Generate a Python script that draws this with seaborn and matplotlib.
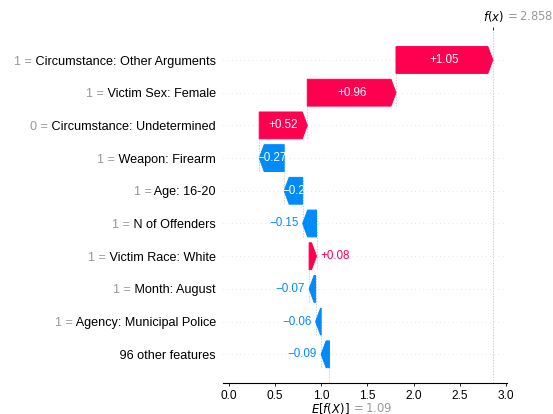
import re
import numpy as np
import matplotlib
matplotlib.use("Agg")
import matplotlib.pyplot as plt
import matplotlib.transforms as mtransforms
import seaborn as sns

# shap waterfall, top row first
feature_names = ["Circumstance: Other Arguments", "Victim Sex: Female",
                 "Circumstance: Undetermined", "Weapon: Firearm", "Age: 16-20",
                 "N of Offenders", "Victim Race: White", "Month: August",
                 "Agency: Municipal Police", "96 other features"]
feature_values = [1, 1, 0, 1, 1, 1, 1, 1, 1, None]
shap_values = [1.048, 0.96, 0.52, -0.27, -0.20, -0.15, 0.08, -0.07, -0.06, -0.09]
base_value = 1.09
x_ticks = [0.0, 0.5, 1.0, 1.5, 2.0, 2.5, 3.0]

RED = "#ff0051"
BLUE = "#008bfb"


def format_value(v, fmt):
    s = fmt % v
    s = re.sub(r"\.?0+$", "", s)
    if s[0] == "-":
        s = "\u2212" + s[1:]
    return s


sns.set_style("white")
plt.rcParams["font.family"] = ["Liberation Sans", "DejaVu Sans"]
plt.rcParams["mathtext.fontset"] = "dejavusans"

fig = plt.figure(figsize=(5.53, 4.1401), dpi=100)
ax = fig.add_axes([0.4024, 0.0742, 0.5149, 0.8533])

n = len(shap_values)
rows = np.arange(n)[::-1]
fx = base_value + sum(shap_values)
xmin, xmax = -0.067, 3.014
ax.set_xlim(xmin, xmax)
ax.set_ylim(-0.887, n - 1 + 0.917)

px_per_unit = 0.5149 * fig.get_figwidth() * fig.dpi / (xmax - xmin)
hl = 5.0 / px_per_unit
txt_off = 4.2 / px_per_unit
bar_w = 0.82

# dotted row lines
for y in rows:
    ax.axhline(y, color="#cccccc", lw=0.5, dashes=(1, 5), zorder=-1)

loc = fx
for i, (y, v) in enumerate(zip(rows, shap_values)):
    loc -= v
    c = RED if v > 0 else BLUE
    sign = 1 if v > 0 else -1
    ax.arrow(loc, y, sign * max(abs(v) - hl, 1e-6), 0, head_length=min(abs(v), hl),
             width=bar_w, head_width=bar_w, color=c, lw=0.7,
             length_includes_head=False)
    if i < n - 1:
        ax.plot([loc, loc], [y - 1 - 0.4, y + 0.4], color="#bbbbbb",
                ls=(0, (2, 2)), lw=0.5, zorder=-1)
    lab = format_value(v, "%+0.02f")
    if abs(v) >= 0.2:
        ax.text(loc + v / 2, y, lab, ha="center", va="center", color="white", fontsize=8.4)
    else:
        ax.text(loc + v + sign * txt_off, y, lab, ha="left" if v > 0 else "right",
                va="center", color=c, fontsize=8.4)

ax.axvline(base_value, 0, 1 / n, color="#bbbbbb", ls=(0, (2, 2)), lw=0.5, zorder=-1)
ax.axvline(fx, color="#bbbbbb", ls=(0, (2, 2)), lw=0.5, zorder=-1)

# y labels: black feature name, grey "value =" in front of it
ax.set_yticks(rows)
ax.set_yticklabels([" " + name for name in feature_names])
ax.tick_params(axis="y", left=False, length=0, pad=4.7, labelsize=9.1, colors="black")

ax.set_xticks(x_ticks)
ax.tick_params(axis="x", bottom=True, length=2.4, width=0.6, pad=2.4,
               labelsize=8.6, colors="black")
sns.despine(ax=ax, left=True)
ax.spines["bottom"].set_color("black")
ax.spines["bottom"].set_linewidth(0.8)

fig.canvas.draw()
renderer = fig.canvas.get_renderer()
for t, fv in zip(ax.get_yticklabels(), feature_values):
    if fv is None:
        continue
    bb = t.get_window_extent(renderer)
    shift = mtransforms.ScaledTranslation(-bb.width / fig.dpi, 0, fig.dpi_scale_trans)
    ax.text(*t.get_position(), format_value(fv, "%0.03f") + " =",
            transform=t.get_transform() + shift, ha="right", va=t.get_va(),
            fontsize=9.1, color="#999999", clip_on=False)

# f(x) tick on top
ax_top = ax.twiny()
ax_top.set_xlim(xmin, xmax)
ax_top.set_xticks([fx])
ax_top.set_xticklabels([""])
ax_top.tick_params(axis="x", top=True, length=2.4, width=0.6, color="black")
sns.despine(ax=ax_top, left=True, bottom=True)

ax.annotate("$f(x)$", xy=(fx, 1), xycoords=("data", "axes fraction"),
            xytext=(-7, 10), textcoords="offset points", ha="left", va="center",
            fontsize=8.4, color="black")
ax.annotate("$ = " + format_value(fx, "%0.03f") + "$", xy=(fx, 1),
            xycoords=("data", "axes fraction"), xytext=(8.4, 10),
            textcoords="offset points", ha="left", va="center",
            fontsize=8.4, color="#999999")
ax.annotate("$E[f(X)]$", xy=(base_value, 0), xycoords=("data", "axes fraction"),
            xytext=(-13.3, -17.8), textcoords="offset points", ha="left", va="center",
            fontsize=8.4, color="black")
ax.annotate("$ = " + format_value(base_value, "%0.03f") + "$", xy=(base_value, 0),
            xycoords=("data", "axes fraction"), xytext=(15.4, -18.3),
            textcoords="offset points", ha="left", va="center",
            fontsize=8.4, color="#999999")

fig.savefig("out.png", dpi=100)
